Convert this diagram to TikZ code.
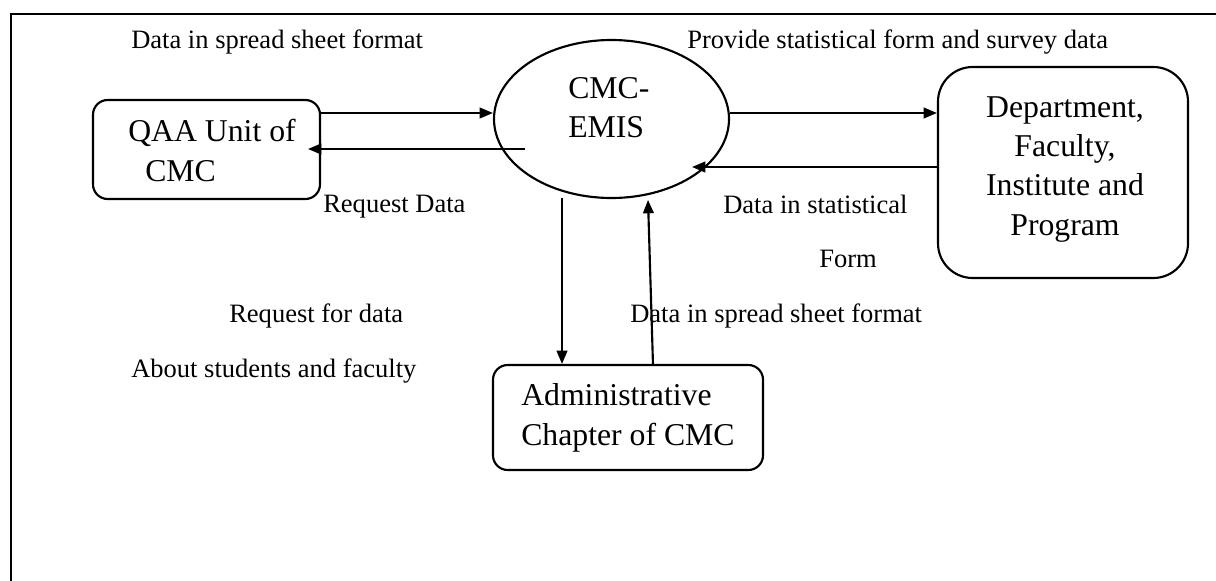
\documentclass[tikz,border=0pt]{standalone}
\usepackage{fontspec}
\setmainfont{Liberation Serif}
\usetikzlibrary{shapes.geometric,arrows.meta}
\tikzset{
  boxnode/.style={draw,line width=1.6pt,rounded corners=11pt,inner sep=0pt},
  bubble/.style={draw,ellipse,line width=1.6pt,inner sep=0pt},
  arr/.style={line width=1.6pt,-{Triangle[length=10pt,width=8pt]}},
  lbl/.style={inner sep=0pt,anchor=base west,font=\fontsize{19.9pt}{24pt}\selectfont},
  boxtext/.style={inner sep=0pt,font=\fontsize{23.8pt}{29.5pt}\selectfont},
}
\begin{document}
\begin{tikzpicture}[x=0.75pt,y=-0.75pt]
\useasboundingbox (0,0) rectangle (1216,581);
% frame
\draw[line width=1.6pt] (11,581) -- (11,14) -- (1216,14);
% nodes
\node[boxnode,minimum width=170.25pt,minimum height=74.25pt] (qaa) at (206.5,149.5) {};
\node[bubble,minimum width=176.25pt,minimum height=118.5pt] (cmc) at (611.5,119) {};
\node[boxnode,rounded corners=26pt,minimum width=187.5pt,minimum height=158.25pt] (dept) at (1063,172.5) {};
\node[boxnode,minimum width=202.5pt,minimum height=78.75pt] (admin) at (628,417.5) {};
% box texts (anchor base = baseline of last line)
\node[boxtext,anchor=base west,align=left] (qaatext) at (128,181) {QAA Unit of\\\hspace*{12.75pt}CMC};
\node[boxtext,anchor=base west,align=left] (cmctext) at (568,138) {CMC-\\EMIS};
\node[boxtext,anchor=base,align=center] (depttext) at (1065,235) {Department,\\Faculty,\\Institute and\\Program};
\node[boxtext,anchor=base west,align=left] (admintext) at (521,445) {Administrative\\Chapter of CMC};
% free ends
\coordinate (qaaIn) at (308,149);
\coordinate (cmcOutL) at (525,149);
\coordinate (cmcInR) at (692,167);
\coordinate (cmcOutB) at (562,198);
\coordinate (cmcInB) at (648,200);
\coordinate (adminOut) at (653,365);
% connectors
\draw[arr] (qaa.east |- 0,113) -- (cmc.west |- 0,113);
\draw[arr] (cmcOutL) -- (qaaIn);
\draw[arr] (cmc.east |- 0,113) -- (dept.west |- 0,113);
\draw[arr] (dept.west |- 0,167) -- (cmcInR);
\draw[arr] (cmcOutB) -- (admin.north -| cmcOutB);
\draw[arr] (adminOut) -- (cmcInB);
% labels
\node[lbl] (l1) at (131,49) {Data in spread sheet format};
\node[lbl] (l2) at (687,49) {Provide statistical form and survey data};
\node[lbl] (l3) at (323,212) {Request Data};
\node[lbl] (l4) at (723,213) {Data in statistical};
\node[lbl] (l5) at (819,267) {Form};
\node[lbl] (l6) at (229,322) {Request for data};
\node[lbl] (l7) at (630,322) {Data in spread sheet format};
\node[lbl] (l8) at (131,377) {About students and faculty};
\end{tikzpicture}
\end{document}
